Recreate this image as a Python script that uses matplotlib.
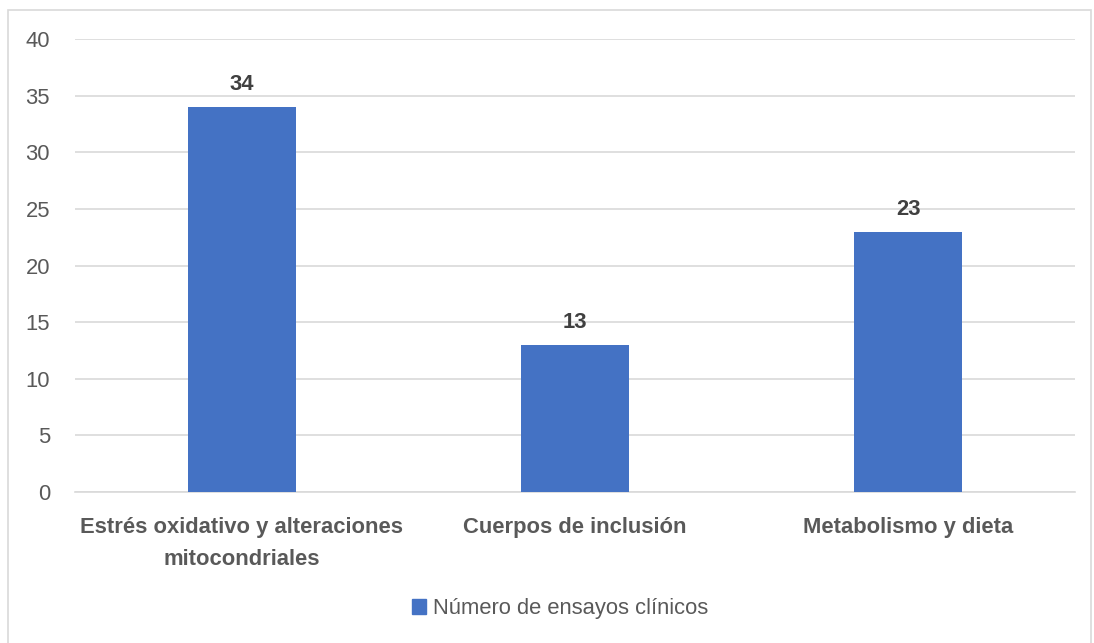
import matplotlib.pyplot as plt
import matplotlib.patches as mpatches

categories = ['Estrés oxidativo y alteraciones\nmitocondriales',
              'Cuerpos de inclusión',
              'Metabolismo y dieta']
values = [34, 13, 23]
series_name = 'Número de ensayos clínicos'
yticks = [0, 5, 10, 15, 20, 25, 30, 35, 40]

plt.rcParams['font.family'] = ['Liberation Sans Narrow', 'Liberation Sans', 'DejaVu Sans']

bar_color = '#4472C4'
text_color = '#595959'
fs = 15.8

fig = plt.figure(figsize=(10.94, 6.43), dpi=100)
ax = fig.add_axes([0.0686, 0.2348, 0.914, 0.7045])

# chart frame
fig.patches.append(mpatches.Rectangle((0.007, -0.01), 0.99, 0.995, transform=fig.transFigure,
                                      fill=False, edgecolor='#D9D9D9', linewidth=1.2))

x = range(len(categories))
bars = ax.bar(x, values, width=0.325, color=bar_color, label=series_name, zorder=3)

for b, v in zip(bars, values):
    ax.text(b.get_x() + b.get_width() / 2, v + 1.05, str(v), ha='center', va='bottom',
            fontsize=fs, fontweight='bold', color='#404040')

ax.set_xlim(-0.5, len(categories) - 0.5)
ax.set_ylim(0, 40)
ax.set_yticks(yticks)
ax.set_xticks(list(x))
ax.set_xticklabels(categories, fontsize=fs, fontweight='bold', color=text_color,
                   linespacing=1.7)
ax.tick_params(axis='y', labelsize=fs, labelcolor=text_color, length=0, pad=18)
ax.tick_params(axis='x', length=0, pad=18)

ax.grid(axis='y', color='#D9D9D9', linewidth=1.2, zorder=0)
for s in ['top', 'right', 'left']:
    ax.spines[s].set_visible(False)
ax.spines['bottom'].set_color('#D9D9D9')
ax.spines['bottom'].set_linewidth(1.2)

leg = fig.legend(handles=[mpatches.Patch(color=bar_color, label=series_name)],
                 loc='center', bbox_to_anchor=(0.512, 0.053), frameon=False,
                 fontsize=fs, handlelength=0.65, handleheight=0.65, handletextpad=0.3)
for t in leg.get_texts():
    t.set_color(text_color)

fig.savefig('out.png', dpi=100)
